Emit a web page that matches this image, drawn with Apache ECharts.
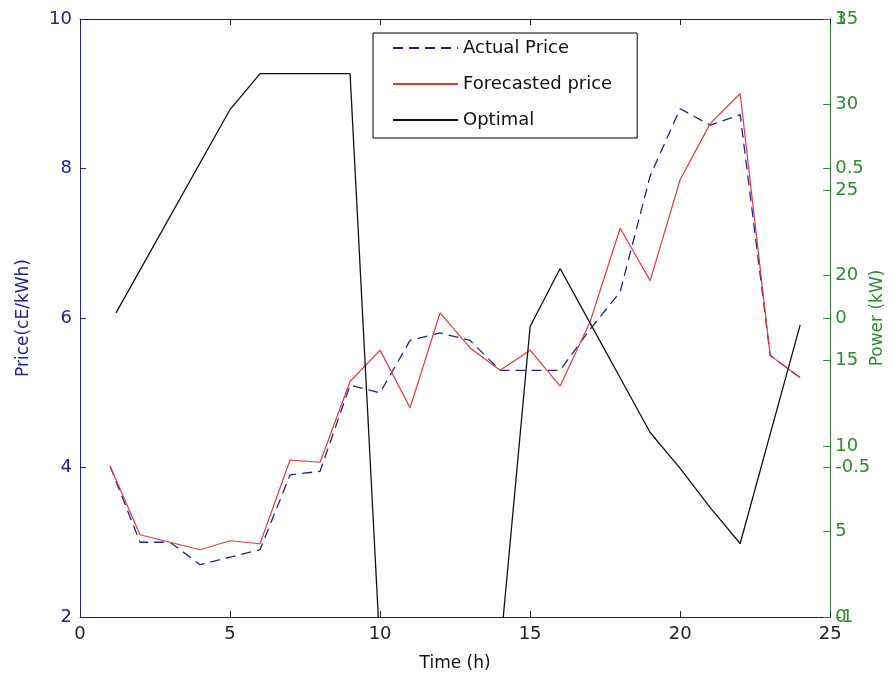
<!DOCTYPE html>
<html>
<head>
<meta charset="utf-8">
<script src="https://cdn.jsdelivr.net/npm/echarts@6/dist/echarts.min.js"></script>
<style>html,body{margin:0;padding:0;background:#fff}#c{width:894px;height:685px}</style>
</head>
<body>
<div id="c"></div>
<script>
var hours = [1,2,3,4,5,6,7,8,9,10,11,12,13,14,15,16,17,18,19,20,21,22,23,24];
var actualPrice = [4.02,3.0,3.0,2.7,2.8,2.9,3.9,3.95,5.1,5.0,5.7,5.8,5.7,5.3,5.3,5.3,5.85,6.35,7.9,8.8,8.58,8.72,5.5,5.2];
var forecastPrice = [4.02,3.1,3.0,2.9,3.02,2.98,4.1,4.07,5.15,5.57,4.8,6.07,5.6,5.3,5.57,5.09,5.95,7.2,6.5,7.85,8.6,9.0,5.5,5.2];
var optimalTime = [1.2,5,6,9,10,14,15,16,17,18,19,20,21,22,23,24];
var optimalPower = [17.8,29.7,31.8,31.8,-2,-2,17.0,20.4,17.2,14.0,10.8,8.7,6.4,4.3,10.7,17.1];
var xTicks = {min:0, max:25, interval:5};
var priceTicks = {min:2, max:10, interval:2};
var powerTicks = {min:0, max:35, interval:5};
var auxTicks = {min:-1, max:1, interval:0.5};

var NAVY = '#23238c', GREEN = '#2e8b2e', FONT = 'DejaVu Sans';
function pairs(xs, ys){ return xs.map(function(x,i){ return [x, ys[i]]; }); }

var chart = echarts.init(document.getElementById('c'), null, {renderer:'canvas'});
chart.setOption({
  animation: false,
  backgroundColor: '#fff',
  textStyle: {fontFamily: FONT},
  grid: {left: 80, right: 62, top: 19, bottom: 68, containLabel: false},
  legend: {
    left: 373, top: 33, orient: 'vertical',
    padding: [6, 25, 9, 19],
    itemWidth: 65, itemHeight: 14, itemGap: 18,
    borderColor: '#000', borderWidth: 1, backgroundColor: '#fff',
    itemStyle: {opacity: 0},
    textStyle: {fontSize: 18, color: '#111', fontFamily: FONT, lineHeight: 18},
    data: ['Actual Price', 'Forecasted price', 'Optimal']
  },
  xAxis: [{
    type: 'value', min: xTicks.min, max: xTicks.max, interval: xTicks.interval,
    position: 'bottom',
    name: 'Time (h)', nameLocation: 'middle', nameGap: 38,
    nameTextStyle: {fontSize: 17, color: '#111', fontFamily: FONT},
    axisLine: {onZero: false, lineStyle: {color: '#222', width: 1}},
    axisTick: {inside: true, length: 6, lineStyle: {color: '#222'}},
    axisLabel: {fontSize: 18, color: '#222', margin: 8, fontFamily: FONT},
    splitLine: {show: false}
  }, {
    type: 'value', min: xTicks.min, max: xTicks.max, interval: xTicks.interval,
    position: 'top',
    axisLine: {onZero: false, lineStyle: {color: '#222', width: 1}},
    axisTick: {inside: true, length: 6, lineStyle: {color: '#222'}},
    axisLabel: {show: false},
    splitLine: {show: false}
  }],
  yAxis: [{
    type: 'value', min: priceTicks.min, max: priceTicks.max, interval: priceTicks.interval,
    position: 'left',
    name: 'Price(cE/kWh)', nameLocation: 'middle', nameGap: 48, nameRotate: 90,
    nameTextStyle: {fontSize: 17, color: NAVY, fontFamily: FONT},
    axisLine: {show: true, onZero: false, lineStyle: {color: NAVY, width: 1}},
    axisTick: {inside: true, length: 6, lineStyle: {color: NAVY}},
    axisLabel: {fontSize: 18, color: NAVY, margin: 8, fontFamily: FONT},
    splitLine: {show: false}
  }, {
    type: 'value', min: powerTicks.min, max: powerTicks.max, interval: powerTicks.interval,
    position: 'right',
    name: 'Power (kW)', nameLocation: 'middle', nameGap: 38, nameRotate: 90,
    nameTextStyle: {fontSize: 17, color: GREEN, fontFamily: FONT},
    axisLine: {show: true, onZero: false, lineStyle: {color: GREEN, width: 1}},
    axisTick: {inside: true, length: 7, lineStyle: {color: GREEN}},
    axisLabel: {fontSize: 18, color: GREEN, margin: 5, fontFamily: FONT},
    splitLine: {show: false}
  }, {
    type: 'value', min: auxTicks.min, max: auxTicks.max, interval: auxTicks.interval,
    position: 'right', offset: 0,
    axisLine: {show: true, onZero: false, lineStyle: {color: GREEN, width: 1}},
    axisTick: {inside: true, length: 7, lineStyle: {color: GREEN}},
    axisLabel: {fontSize: 18, color: GREEN, margin: 5, fontFamily: FONT},
    splitLine: {show: false}
  }],
  series: [{
    name: 'Actual Price', type: 'line', xAxisIndex: 0, yAxisIndex: 0,
    data: pairs(hours, actualPrice), symbol: 'none', clip: true,
    lineStyle: {color: NAVY, width: 1.3, type: [10, 6]}, itemStyle: {color: NAVY}
  }, {
    name: 'Forecasted price', type: 'line', xAxisIndex: 0, yAxisIndex: 0,
    data: pairs(hours, forecastPrice), symbol: 'none', clip: true,
    lineStyle: {color: '#e03a3a', width: 1.2}, itemStyle: {color: '#e03a3a'}
  }, {
    name: 'Optimal', type: 'line', xAxisIndex: 0, yAxisIndex: 1,
    data: pairs(optimalTime, optimalPower), symbol: 'none', clip: true,
    lineStyle: {color: '#111', width: 1.3}, itemStyle: {color: '#111'}
  }]
});
</script>
</body>
</html>
